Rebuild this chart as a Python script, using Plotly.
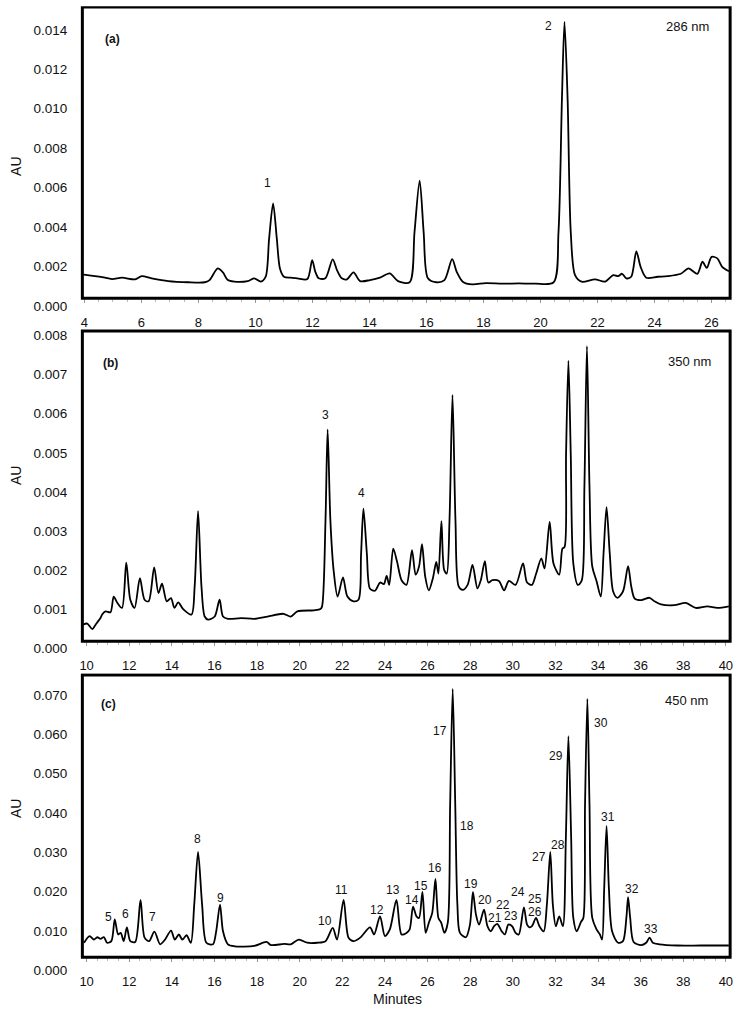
import plotly.graph_objects as go

# ---------------- data (time in minutes, absorbance in AU) ----------------
a_time = [3.92, 4.62, 4.97, 5.32, 5.78, 6.01, 6.36, 6.94, 7.64, 8.22, 8.39, 8.68, 8.86, 9.03, 9.26,
          9.73, 9.96, 10.19, 10.36, 10.48, 10.62, 10.75, 10.86, 11.00, 11.23, 11.47, 11.82, 11.99,
          12.10, 12.22, 12.45, 12.71, 12.86, 13.03, 13.21, 13.44, 13.67, 14.02, 14.37, 14.71, 15.00,
          15.41, 15.58, 15.76, 15.90, 16.05, 16.34, 16.63, 16.90, 17.06, 17.27, 17.61, 18.08, 18.66,
          19.24, 19.82, 20.46, 20.63, 20.75, 20.84, 20.95, 21.06, 21.21, 21.44, 21.91, 22.26, 22.55,
          22.72, 22.86, 23.01, 23.18, 23.36, 23.51, 23.71, 24.11, 24.46, 24.92, 25.19, 25.50, 25.68,
          25.83, 26.00, 26.20, 26.37, 26.61]
a_au = [0.00160, 0.00146, 0.00136, 0.00143, 0.00135, 0.00151, 0.00140, 0.00126, 0.00120, 0.00120,
        0.00131, 0.00190, 0.00170, 0.00131, 0.00123, 0.00126, 0.00140, 0.00123, 0.00148, 0.00341,
        0.00520, 0.00341, 0.00190, 0.00148, 0.00143, 0.00140, 0.00136, 0.00232, 0.00173, 0.00140,
        0.00140, 0.00236, 0.00182, 0.00140, 0.00135, 0.00170, 0.00126, 0.00131, 0.00143, 0.00165,
        0.00126, 0.00120, 0.00375, 0.00635, 0.00375, 0.00140, 0.00120, 0.00131, 0.00237, 0.00173,
        0.00123, 0.00109, 0.00116, 0.00113, 0.00114, 0.00113, 0.00120, 0.00375, 0.01047, 0.01440,
        0.01047, 0.00375, 0.00156, 0.00123, 0.00135, 0.00123, 0.00156, 0.00151, 0.00163, 0.00140,
        0.00148, 0.00277, 0.00198, 0.00143, 0.00148, 0.00151, 0.00163, 0.00190, 0.00163, 0.00224,
        0.00193, 0.00249, 0.00241, 0.00198, 0.00176]

b_time = [9.83, 10.03, 10.27, 10.42, 10.65, 10.73, 10.89, 11.12, 11.27, 11.43, 11.66, 11.86, 12.05,
          12.25, 12.50, 12.72, 12.91, 13.17, 13.37, 13.54, 13.76, 13.96, 14.12, 14.30, 14.53, 14.92,
          15.07, 15.23, 15.39, 15.54, 15.70, 16.01, 16.24, 16.40, 16.63, 17.25, 17.87, 18.49, 19.24,
          19.58, 19.89, 20.66, 20.97, 21.05, 21.21, 21.31, 21.44, 21.59, 21.78, 22.03, 22.24, 22.52,
          22.76, 22.88, 22.99, 23.15, 23.30, 23.53, 23.77, 23.95, 24.08, 24.20, 24.39, 24.57, 24.78,
          25.01, 25.27, 25.44, 25.60, 25.74, 25.89, 26.06, 26.25, 26.41, 26.51, 26.65, 26.78, 26.90,
          27.03, 27.17, 27.31, 27.46, 27.65, 27.88, 28.11, 28.34, 28.50, 28.69, 28.85, 29.04, 29.35,
          29.59, 29.82, 30.13, 30.48, 30.67, 30.90, 31.09, 31.34, 31.49, 31.73, 31.91, 32.18, 32.33,
          32.43, 32.50, 32.61, 32.72, 32.84, 33.05, 33.23, 33.36, 33.48, 33.60, 33.73, 33.93, 34.13,
          34.26, 34.40, 34.55, 34.71, 34.91, 35.17, 35.41, 35.56, 35.72, 36.03, 36.42, 36.65, 36.96,
          37.58, 38.12, 38.59, 39.13, 39.60, 40.14]
b_au = [0.00060, 0.00063, 0.00049, 0.00060, 0.00077, 0.00086, 0.00094, 0.00092, 0.00132, 0.00117,
        0.00103, 0.00219, 0.00124, 0.00103, 0.00179, 0.00124, 0.00120, 0.00207, 0.00141, 0.00165,
        0.00120, 0.00128, 0.00103, 0.00117, 0.00100, 0.00086, 0.00158, 0.00351, 0.00158, 0.00081,
        0.00073, 0.00081, 0.00124, 0.00081, 0.00075, 0.00077, 0.00075, 0.00081, 0.00088, 0.00081,
        0.00094, 0.00097, 0.00100, 0.00107, 0.00327, 0.00560, 0.00327, 0.00200, 0.00132, 0.00181,
        0.00132, 0.00120, 0.00124, 0.00240, 0.00357, 0.00243, 0.00152, 0.00147, 0.00168, 0.00164,
        0.00185, 0.00162, 0.00255, 0.00221, 0.00174, 0.00162, 0.00251, 0.00188, 0.00209, 0.00266,
        0.00183, 0.00148, 0.00179, 0.00221, 0.00191, 0.00325, 0.00200, 0.00191, 0.00327, 0.00648,
        0.00327, 0.00158, 0.00149, 0.00162, 0.00213, 0.00153, 0.00174, 0.00223, 0.00168, 0.00174,
        0.00172, 0.00148, 0.00172, 0.00162, 0.00217, 0.00168, 0.00162, 0.00190, 0.00230, 0.00204,
        0.00323, 0.00217, 0.00188, 0.00255, 0.00259, 0.00497, 0.00736, 0.00497, 0.00217, 0.00162,
        0.00172, 0.00412, 0.00773, 0.00412, 0.00209, 0.00172, 0.00132, 0.00243, 0.00361, 0.00243,
        0.00145, 0.00129, 0.00145, 0.00210, 0.00158, 0.00127, 0.00123, 0.00129, 0.00120, 0.00112,
        0.00110, 0.00116, 0.00103, 0.00107, 0.00103, 0.00107]

c_time = [9.88, 10.14, 10.34, 10.50, 10.65, 10.81, 10.96, 11.16, 11.32, 11.48, 11.60, 11.74, 11.89,
          12.05, 12.28, 12.53, 12.72, 12.93, 13.18, 13.45, 13.68, 13.96, 14.14, 14.33, 14.49, 14.69,
          14.89, 15.05, 15.23, 15.42, 15.62, 15.93, 16.08, 16.26, 16.40, 16.63, 16.94, 17.87, 18.44,
          18.65, 19.27, 19.58, 19.96, 20.35, 20.82, 21.21, 21.55, 21.75, 22.06, 22.29, 22.52, 22.84,
          23.30, 23.49, 23.77, 24.00, 24.23, 24.54, 24.78, 25.01, 25.16, 25.32, 25.48, 25.60, 25.76,
          25.91, 26.06, 26.22, 26.37, 26.51, 26.64, 26.79, 26.95, 27.06, 27.18, 27.30, 27.40, 27.52,
          27.80, 27.99, 28.13, 28.27, 28.42, 28.65, 28.81, 28.97, 29.12, 29.27, 29.48, 29.63, 29.79,
          29.97, 30.13, 30.28, 30.52, 30.67, 30.78, 30.90, 31.09, 31.25, 31.45, 31.60, 31.76, 31.88,
          32.02, 32.18, 32.35, 32.49, 32.61, 32.74, 32.84, 33.00, 33.20, 33.31, 33.39, 33.50, 33.60,
          33.73, 33.93, 34.09, 34.19, 34.29, 34.40, 34.51, 34.66, 34.94, 35.17, 35.33, 35.41, 35.51,
          35.67, 36.02, 36.26, 36.42, 36.57, 36.88, 37.73, 38.82, 40.14]
c_au = [0.0070, 0.0087, 0.0078, 0.0084, 0.0080, 0.0084, 0.0070, 0.0074, 0.0129, 0.0091, 0.0095,
        0.0074, 0.0109, 0.0074, 0.0072, 0.0179, 0.0083, 0.0074, 0.0098, 0.0066, 0.0078, 0.0101,
        0.0078, 0.0091, 0.0078, 0.0089, 0.0070, 0.0167, 0.0301, 0.0167, 0.0070, 0.0066, 0.0099,
        0.0167, 0.0099, 0.0066, 0.0061, 0.0062, 0.0072, 0.0064, 0.0067, 0.0066, 0.0078, 0.0070,
        0.0070, 0.0074, 0.0108, 0.0078, 0.0179, 0.0083, 0.0074, 0.0083, 0.0109, 0.0091, 0.0137,
        0.0087, 0.0104, 0.0179, 0.0091, 0.0095, 0.0104, 0.0162, 0.0137, 0.0133, 0.0199, 0.0095,
        0.0121, 0.0146, 0.0232, 0.0133, 0.0121, 0.0095, 0.0121, 0.0420, 0.0715, 0.0420, 0.0167,
        0.0095, 0.0084, 0.0116, 0.0199, 0.0142, 0.0116, 0.0154, 0.0112, 0.0099, 0.0112, 0.0118,
        0.0099, 0.0091, 0.0116, 0.0112, 0.0095, 0.0091, 0.0160, 0.0116, 0.0109, 0.0112, 0.0133,
        0.0112, 0.0099, 0.0167, 0.0301, 0.0167, 0.0112, 0.0137, 0.0112, 0.0335, 0.0595, 0.0335,
        0.0133, 0.0099, 0.0123, 0.0133, 0.0420, 0.0690, 0.0420, 0.0133, 0.0104, 0.0091, 0.0078,
        0.0209, 0.0367, 0.0209, 0.0099, 0.0070, 0.0074, 0.0133, 0.0186, 0.0133, 0.0072, 0.0064,
        0.0070, 0.0083, 0.0070, 0.0066, 0.0063, 0.0063, 0.0063]

# peak numbers (label text, time, AU)
a_peak_labels = ["1", "2"]
a_peak_x = [10.42, 20.28]
a_peak_y = [0.00624, 0.01422]

b_peak_labels = ["3", "4"]
b_peak_x = [21.21, 22.91]
b_peak_y = [0.00597, 0.00397]

c_peak_labels = [str(i) for i in range(5, 34)]
c_peak_x = [11.04, 11.82, 13.09, 15.20, 16.29, 21.21, 21.94, 23.64, 24.39, 25.27, 25.71, 26.36,
            26.59, 27.85, 28.06, 28.69, 29.15, 29.54, 29.93, 30.25, 31.02, 31.06, 31.22, 32.10,
            32.04, 34.16, 34.47, 35.59, 36.49]
c_peak_y = [0.0136, 0.0144, 0.0135, 0.0333, 0.0184, 0.0125, 0.0203, 0.0152, 0.0205, 0.0178,
            0.0213, 0.0260, 0.0609, 0.0367, 0.0220, 0.0178, 0.0133, 0.0167, 0.0137, 0.0199,
            0.0182, 0.0148, 0.0289, 0.0318, 0.0544, 0.0629, 0.0390, 0.0207, 0.0105]

a_yticks = [0.000, 0.002, 0.004, 0.006, 0.008, 0.010, 0.012, 0.014]
b_yticks = [0.000, 0.001, 0.002, 0.003, 0.004, 0.005, 0.006, 0.007, 0.008]
c_yticks = [0.000, 0.010, 0.020, 0.030, 0.040, 0.050, 0.060, 0.070]

# ---------------- layout helpers ----------------
W, H = 750, 1022
FONT = "Liberation Sans, Arial, sans-serif"


def py(p):
    return 1 - p / H


XDOM = [80 / W, 733 / W]

panels = [
    dict(x="x", y="y", t=a_time, v=a_au, xr=[3.93, 26.65], yr=[-0.0001, 0.0152], ydom=(309.7, 6.28),
         box=(0.00039, 0.01516), xpos=300, yt=a_yticks, fmt=".3f", tag="(a)", wl="286 nm",
         tagxy=(4.97, 0.01355), wlxy=(25.16, 0.01415),
         pl=a_peak_labels, px=a_peak_x, pv=a_peak_y, au_y=167),
    dict(x="x2", y="y2", t=b_time, v=b_au, xr=[9.8, 40.2], yr=[-0.0001, 0.0082], ydom=(655.93, 329.74),
         box=(0.000178, 0.008117), xpos=645, yt=b_yticks, fmt=".3f", tag="(b)", wl="350 nm",
         tagxy=(11.10, 0.00730), wlxy=(38.29, 0.00735),
         pl=b_peak_labels, px=b_peak_x, pv=b_peak_y, au_y=478),
    dict(x="x3", y="y3", t=c_time, v=c_au, xr=[9.8, 40.2], yr=[-0.001, 0.0755], ydom=(979.96, 677.25),
         box=(0.003285, 0.07506), xpos=963, yt=c_yticks, fmt=".3f", tag="(c)", wl="450 nm",
         tagxy=(11.01, 0.0677), wlxy=(38.15, 0.0685),
         pl=c_peak_labels, px=c_peak_x, pv=c_peak_y, au_y=813),
]

fig = go.Figure()
layout = dict(
    width=W, height=H,
    margin=dict(l=0, r=0, t=0, b=0),
    paper_bgcolor="white", plot_bgcolor="white",
    showlegend=False,
    font=dict(family=FONT, size=13, color="#111"),
)
shapes = []
annotations = []

for i, p in enumerate(panels):
    fig.add_trace(go.Scatter(
        x=p["t"], y=p["v"], mode="lines", xaxis=p["x"], yaxis=p["y"],
        line=dict(color="black", width=1.8, shape="spline", smoothing=0.8),
        hoverinfo="skip", showlegend=False))
    xkey = "xaxis" if i == 0 else f"xaxis{i + 1}"
    ykey = "yaxis" if i == 0 else f"yaxis{i + 1}"
    layout[xkey] = dict(
        domain=XDOM, range=p["xr"], anchor="free", position=py(p["xpos"]),
        tick0=0, dtick=2, ticks="outside", ticklen=4, tickcolor="#999", tickwidth=1,
        minor=dict(dtick=0.5, ticks="outside", ticklen=3, tickcolor="#bbb"),
        showline=False, showgrid=False, zeroline=False, fixedrange=True,
        ticklabelstandoff=8, tickfont=dict(size=13, family=FONT, color="#111"),
    )
    layout[ykey] = dict(
        domain=[py(p["ydom"][0]), py(p["ydom"][1])], range=p["yr"], anchor=p["x"],
        tickvals=p["yt"], tickformat=p["fmt"], ticks="", showline=False, showgrid=False,
        zeroline=False, fixedrange=True,
        ticklabelstandoff=14, tickfont=dict(size=13.5, family=FONT, color="#111"),
    )
    shapes.append(dict(type="rect", xref=f"{p['x']} domain", yref=p["y"], x0=0, x1=1,
                       y0=p["box"][0], y1=p["box"][1], line=dict(color="black", width=3),
                       fillcolor="rgba(0,0,0,0)", layer="above"))
    annotations.append(dict(x=p["tagxy"][0], y=p["tagxy"][1], xref=p["x"], yref=p["y"],
                            text=f"<b>{p['tag']}</b>", showarrow=False,
                            xanchor="center", yanchor="middle",
                            font=dict(size=12, family=FONT, color="#111")))
    annotations.append(dict(x=p["wlxy"][0], y=p["wlxy"][1], xref=p["x"], yref=p["y"],
                            text=p["wl"], showarrow=False, xanchor="center", yanchor="middle",
                            font=dict(size=13, family=FONT, color="#111")))
    for lab, lx, lv in zip(p["pl"], p["px"], p["pv"]):
        annotations.append(dict(x=lx, y=lv, xref=p["x"], yref=p["y"], text=lab, showarrow=False,
                                xanchor="center", yanchor="middle",
                                font=dict(size=12, family=FONT, color="#111")))
    annotations.append(dict(x=13 / W, y=py(p["au_y"]), xref="paper", yref="paper", text="AU",
                            textangle=-90, showarrow=False, xanchor="center", yanchor="middle",
                            font=dict(size=14, family=FONT, color="#111")))

annotations.append(dict(x=398 / W, y=py(1005), xref="paper", yref="paper", text="Minutes",
                        showarrow=False, xanchor="center", yanchor="middle",
                        font=dict(size=14, family=FONT, color="#111")))

layout["shapes"] = shapes
layout["annotations"] = annotations
fig.update_layout(**layout)
fig.write_html("out.html", config={"displayModeBar": False},
               post_script="document.body.style.margin='0px';document.body.style.padding='0px';")
